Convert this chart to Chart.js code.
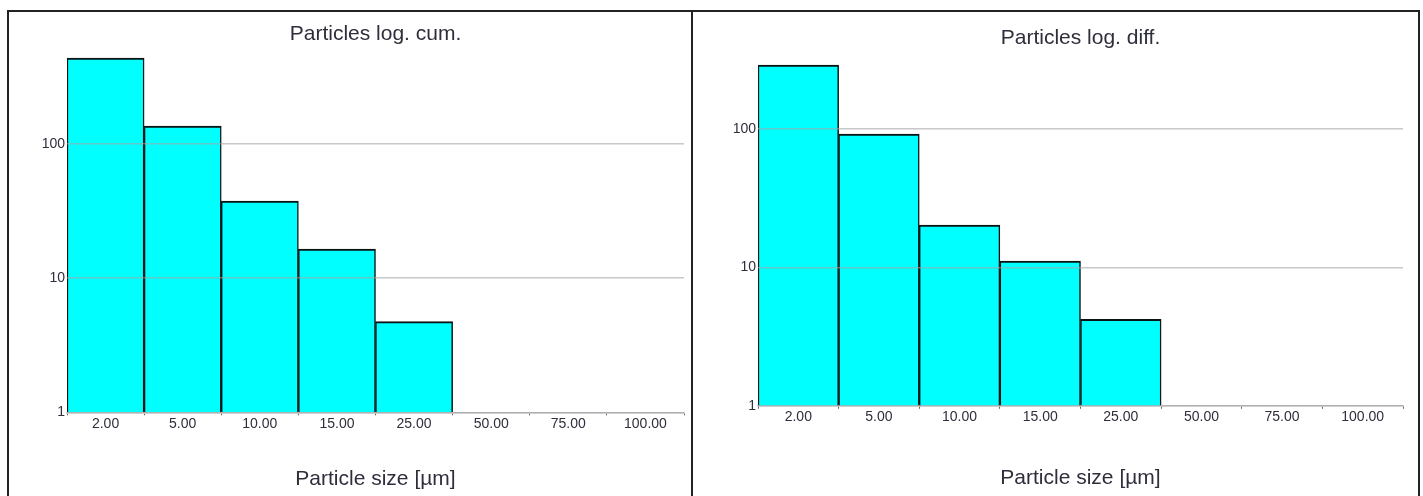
<!DOCTYPE html>
<html>
<head>
<meta charset="utf-8">
<script src="https://cdn.jsdelivr.net/npm/chart.js@4/dist/chart.umd.min.js"></script>
<style>
  html, body { margin: 0; padding: 0; background: #fff; }
  body { width: 1423px; height: 496px; position: relative; overflow: hidden; }
  .frame { position: absolute; left: 7px; top: 10px; width: 1409px; height: 520px;
           border: 2px solid #222; border-bottom: none; }
  .divider { position: absolute; left: 691px; top: 10px; width: 2px; height: 520px; background: #222; }
  canvas { position: absolute; }
  #cum { left: 9px; top: 12px; }
  #diff { left: 694px; top: 12px; }
</style>
</head>
<body>
<div class="frame"></div>
<div class="divider"></div>
<canvas id="cum" width="682" height="484"></canvas>
<canvas id="diff" width="723" height="484"></canvas>
<script>
// Particle size classes (µm) shared by both histograms
const sizeLabels = ['2.00', '5.00', '10.00', '15.00', '25.00', '50.00', '75.00', '100.00'];
// Cumulative particle counts per class (empty classes have no bar)
const cumValues = [433, 135, 37.4, 16.4, 4.73, null, null, null];
// Differential particle counts per class
const diffValues = [290, 92, 20.2, 11.1, 4.22, null, null, null];
// Decade ticks of the logarithmic count axis
const yTicks = [1, 10, 100];

const FONT = '"Liberation Sans", Arial, Helvetica, sans-serif';
const TEXT = '#2e2e3c';

function histogram(id, title, values, opt) {
  return new Chart(document.getElementById(id), {
    type: 'bar',
    data: {
      labels: sizeLabels,
      datasets: [{
        data: values,
        backgroundColor: '#00ffff',
        borderColor: '#0a1414',
        borderWidth: { top: 2, left: 1.5, right: 1.5, bottom: 0 },
        barPercentage: 1,
        categoryPercentage: 1
      }]
    },
    options: {
      responsive: false,
      animation: false,
      devicePixelRatio: 1,
      layout: { padding: { left: 0, right: opt.padRight, top: 0, bottom: 0 } },
      plugins: {
        legend: { display: false },
        tooltip: { enabled: false },
        title: {
          display: true,
          fullSize: false,
          text: title,
          color: TEXT,
          font: { family: FONT, size: 21, weight: 'normal' },
          padding: { top: opt.titleTop, bottom: opt.titleBottom }
        }
      },
      scales: {
        x: {
          type: 'category',
          offset: true,
          grid: {
            offset: true,
            drawOnChartArea: false,
            drawTicks: true,
            tickLength: 3,
            color: '#666',
            lineWidth: 1
          },
          border: { display: true, color: '#c4c4c4', width: 1.5 },
          ticks: {
            color: TEXT,
            font: { family: FONT, size: 14 },
            padding: 0,
            maxRotation: 0,
            autoSkip: false
          },
          title: {
            display: true,
            text: 'Particle size [µm]',
            color: TEXT,
            font: { family: FONT, size: 21, weight: 'normal' },
            padding: { top: 0, bottom: opt.xTitleBottom }
          },
          afterFit: s => { s.height = opt.xHeight; }
        },
        y: {
          type: 'logarithmic',
          min: 1,
          max: opt.yMax,
          border: { display: false },
          grid: {
            z: 1,
            color: 'rgba(165,165,165,0.6)',
            lineWidth: 1.5,
            drawTicks: false
          },
          ticks: {
            color: TEXT,
            font: { family: FONT, size: 14 },
            padding: 2,
            callback: v => String(v)
          },
          afterBuildTicks: s => { s.ticks = yTicks.map(v => ({ value: v })); },
          afterFit: s => { s.width = opt.yWidth; }
        }
      }
    }
  });
}

histogram('cum', 'Particles log. cum.', cumValues, {
  padRight: 7, titleTop: 10, titleBottom: 2.6, yMax: 500,
  xHeight: 83.7, yWidth: 58, xTitleBottom: 3.9
});

histogram('diff', 'Particles log. diff.', diffValues, {
  padRight: 14, titleTop: 13.9, titleBottom: 2.6, yMax: 350,
  xHeight: 90.2, yWidth: 64, xTitleBottom: 5.4
});
</script>
</body>
</html>
